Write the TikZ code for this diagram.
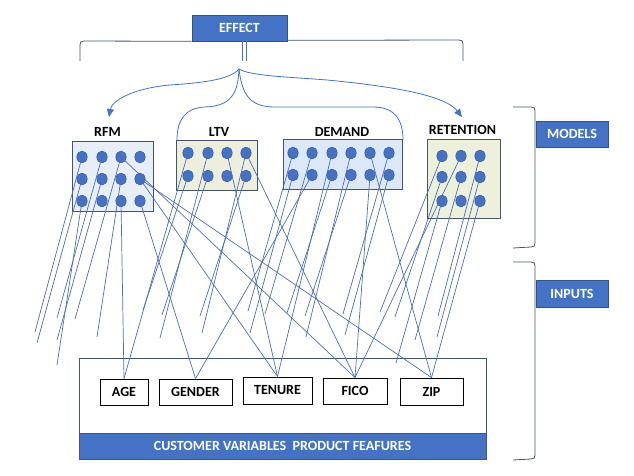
\documentclass[tikz,border=0pt]{standalone}
\usepackage{fontspec}
\setmainfont{Carlito}
\usetikzlibrary{arrows.meta,shapes.geometric}
\definecolor{accent}{RGB}{68,114,196}
\definecolor{accentdark}{RGB}{47,82,143}
\definecolor{slate}{RGB}{68,84,106}
\definecolor{wirecol}{RGB}{76,110,180}
\definecolor{fillrfm}{RGB}{231,238,246}
\definecolor{fillltv}{RGB}{238,238,220}
\definecolor{filldem}{RGB}{220,232,246}
\definecolor{fillret}{RGB}{237,240,218}
\begin{document}
\begin{tikzpicture}[x=1pt,y=-1pt,
  lbl/.style={font=\fontsize{14}{16}\selectfont\bfseries, inner sep=0pt, anchor=base},
  bluebox/.style={fill=accent, draw=accentdark, line width=0.7pt, text=white,
    font=\fontsize{14}{16}\selectfont\bfseries, inner sep=0pt},
  modelbox/.style={draw=slate, line width=0.8pt, inner sep=0pt},
  dotnode/.style={ellipse, minimum width=10.5pt, minimum height=12pt, inner sep=0pt,
    fill=accent, draw=accentdark, line width=0.4pt},
  wire/.style={draw=wirecol, line width=0.7pt},
  inbox/.style={draw=black, line width=0.9pt, inner sep=0pt,
    font=\fontsize{14}{16}\selectfont\bfseries},
  brk/.style={draw=slate, line width=0.8pt},
  curvy/.style={draw=accent, line width=0.8pt},
  tipstyle/.style={-{Triangle[length=8pt,width=7pt]}}
]
\useasboundingbox (0,0) rectangle (634,476);

% ---------- top EFFECT ----------
\node[bluebox, minimum width=95pt, minimum height=26pt] (effect) at (239.5,28) {EFFECT};
\draw[brk] (80,61) -- (80,45) .. controls (80,42) and (81,41) .. (84,41) -- (effect.south west);
\draw[brk] (effect.south east) ++(0,-1) -- (459,40) .. controls (462,40) and (463,41) .. (463,44) -- (463,61);
\draw[curvy, line width=0.6pt] (242,41) -- (242,61);
\draw[curvy, line width=0.6pt] (246,41) -- (246,61);

\coordinate (tip) at (239,69);
\coordinate (rfmarrow) at (109,117);
\coordinate (retarrow) at (462,117);
\coordinate (ltvtop) at (177,140);
\coordinate (demtop) at (403,140);
\draw[curvy, tipstyle] (tip) .. controls (230,80) and (200,83) .. (170,85)
   .. controls (135,88) and (112,100) .. (rfmarrow);
\draw[curvy, tipstyle] (tip) .. controls (250,76) and (290,77) .. (327,80)
   .. controls (390,86) and (445,95) .. (retarrow);
\draw[curvy] (tip) .. controls (238,95) and (230,106) .. (205,107)
   .. controls (185,108) and (177,120) .. (ltvtop);
\draw[curvy] (tip) .. controls (242,95) and (250,107) .. (275,107) -- (373,107)
   .. controls (395,107) and (403,120) .. (demtop);

% ---------- model labels ----------
\node[lbl] (rfmlbl) at (107.5,136) {RFM};
\node[lbl] (ltvlbl) at (219,136) {LTV};
\node[lbl] (demlbl) at (342,136) {DEMAND};
\node[lbl] (retlbl) at (462.5,135) {RETENTION};

% ---------- model boxes ----------
\node[modelbox, fill=fillrfm, minimum width=81pt, minimum height=70pt] (rfmbox) at (112.5,176) {};
\node[modelbox, fill=fillltv, minimum width=81pt, minimum height=50pt] (ltvbox) at (216.5,165) {};
\node[modelbox, fill=filldem, minimum width=119pt, minimum height=50pt] (dembox) at (342.5,164) {};
\node[modelbox, fill=fillret, minimum width=73pt, minimum height=79pt] (retbox) at (463.5,178.5) {};

\foreach \x [count=\i] in {82,102,121,140}
  \foreach \y [count=\j] in {157,179,201}
    \node[dotnode] (rfm\i\j) at (\x,\y) {};
\foreach \x [count=\i] in {188,208,227,246}
  \foreach \y [count=\j] in {153,176}
    \node[dotnode] (ltv\i\j) at (\x,\y) {};
\foreach \x [count=\i] in {293,312,332,351,370,389}
  \foreach \y [count=\j] in {153,175}
    \node[dotnode] (dem\i\j) at (\x,\y) {};
\foreach \x [count=\i] in {442,461,480}
  \foreach \y [count=\j] in {156,177,201}
    \node[dotnode] (ret\i\j) at (\x,\y) {};

% ---------- right brackets ----------
\draw[brk] (513,107) -- (531,107) .. controls (534,107) and (535,108) .. (535,111)
  -- (535,243) .. controls (535,246) and (534,247) .. (531,247) -- (513,248);
\draw[brk] (513,262) -- (531,262) .. controls (534,262) and (535,263) .. (535,266)
  -- (535,455) .. controls (535,458) and (534,459) .. (531,459) -- (513,460);
\node[bluebox, minimum width=72pt, minimum height=26pt] (models) at (572,134) {MODELS};
\node[bluebox, minimum width=72pt, minimum height=27pt] (inputs) at (572,293.5) {INPUTS};

% ---------- bottom panel ----------
\node[draw=slate, line width=0.8pt, minimum width=407pt, minimum height=75pt, inner sep=0pt] (panel) at (282.5,395.5) {};
\node[bluebox, draw=slate, minimum width=407pt, minimum height=26pt] (bar) at (282.5,446) {CUSTOMER VARIABLES\ \ PRODUCT FEAFURES};
\node[inbox, minimum width=48pt, minimum height=26pt] (age) at (124,392) {AGE};
\node[inbox, minimum width=73pt, minimum height=26pt] (gender) at (195.5,392) {GENDER};
\node[inbox, minimum width=69pt, minimum height=27pt] (tenure) at (277.5,390.5) {TENURE};
\node[inbox, minimum width=64pt, minimum height=26pt] (fico) at (355,391) {FICO};
\node[inbox, minimum width=63pt, minimum height=27pt] (zip) at (431.5,391.5) {ZIP};

% ---------- free ends ----------
\coordinate (e1) at (35,332);
\coordinate (e2) at (37,343);
\coordinate (e3) at (57,318);
\coordinate (e4) at (57,340);
\coordinate (e5) at (57,365);
\coordinate (e6) at (75,319);
\coordinate (e7) at (97,337);
\coordinate (e8) at (143,310);
\coordinate (e9) at (162,315);
\coordinate (e10) at (160,338);
\coordinate (e11) at (200,316);
\coordinate (e12) at (202,333);
\coordinate (e13) at (248,311);
\coordinate (e14) at (250,333);
\coordinate (e15) at (265,314);
\coordinate (e16) at (287,313);
\coordinate (e17) at (305,316);
\coordinate (e18) at (306,337);
\coordinate (e19) at (343,314);
\coordinate (e20) at (345,335);
\coordinate (e21) at (380,312);
\coordinate (e22) at (395,317);
\coordinate (e23) at (415,340);
\coordinate (e24) at (438,316);
\coordinate (e25) at (437,337);
\coordinate (e26) at (396,363);

% ---------- wires ----------
% RFM
\draw[wire] (rfm11.center) -- (e1);
\draw[wire] (rfm12.center) -- (e2);
\draw[wire] (rfm21.center) -- (e3);
\draw[wire] (rfm22.center) -- (e4);
\draw[wire] (rfm13.center) -- (e5);
\draw[wire] (rfm31.center) -- (e6);
\draw[wire] (rfm32.center) -- (e7);
\draw[wire] (rfm31.center) -- (fico.north);
\draw[wire] (rfm42.center) -- (zip.north);
\draw[wire] (rfm42.center) -- (tenure.north);
\draw[wire] (rfm43.center) -- (gender.north);
\draw[wire] (rfm33.center) -- (age.north);
% LTV
\draw[wire] (ltv11.center) -- (age.north);
\draw[wire] (ltv12.center) -- (e8);
\draw[wire] (ltv22.center) -- (e9);
\draw[wire] (ltv21.center) -- (e10);
\draw[wire] (ltv42.center) -- (e11);
\draw[wire] (ltv41.center) -- (e12);
\draw[wire] (ltv31.center) -- (tenure.north);
\draw[wire] (ltv41.center) -- (fico.north);
% DEMAND
\draw[wire] (dem11.center) -- (e13);
\draw[wire] (dem12.center) -- (e14);
\draw[wire] (dem21.center) -- (e15);
\draw[wire] (dem22.center) -- (gender.north);
\draw[wire] (dem31.center) -- (tenure.north);
\draw[wire] (dem32.center) -- (e16);
\draw[wire] (dem41.center) -- (e18);
\draw[wire] (dem42.center) -- (e17);
\draw[wire] (dem51.center) -- (zip.north);
\draw[wire] (dem52.center) -- (fico.north);
\draw[wire] (dem61.center) -- (e19);
\draw[wire] (dem62.center) -- (e20);
% RETENTION
\draw[wire] (ret11.center) -- (e21);
\draw[wire] (ret12.center) -- (e22);
\draw[wire] (ret22.center) -- (e23);
\draw[wire] (ret31.center) -- (e24);
\draw[wire] (ret32.center) -- (e25);
\draw[wire] (ret13.center) -- (e26);
\draw[wire] (ret21.center) -- (fico.north);
\draw[wire] (ret33.center) -- (zip.north);
\end{tikzpicture}
\end{document}
